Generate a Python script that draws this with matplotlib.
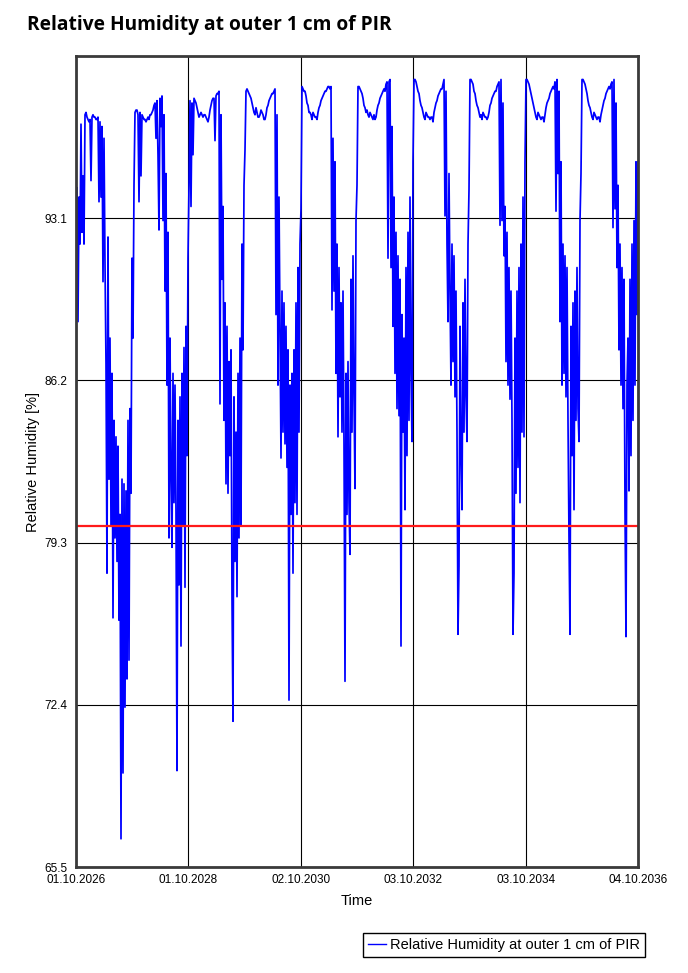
import numpy as np
import pandas as pd
import matplotlib
matplotlib.use("Agg")
import matplotlib.pyplot as plt
from matplotlib.lines import Line2D

# Relative humidity [%], one value per ~6.5 days
rh_2026 = [90.5, 94.4, 88.7, 94.0, 92.0, 97.1, 92.5, 94.9, 92.0, 97.5,
           97.6, 97.4, 97.3, 97.2, 97.3, 94.7, 97.4, 97.5, 97.4, 97.4,
           97.3, 97.3, 97.4, 93.8, 97.2, 94.0, 97.0, 90.4, 96.5, 91.2,
           86.9, 78.0, 92.3, 82.0, 88.0, 80.0, 86.5, 76.1, 84.5, 79.5,
           83.8, 78.5, 83.4, 76.0, 80.5, 66.7, 82.0, 69.5, 81.8, 72.3,
           81.5, 73.5, 84.5, 74.3, 85.0, 81.4, 91.4]
rh_2027 = [88.0, 94.5, 97.6, 97.7, 97.7, 97.5, 93.8, 97.6, 94.9, 97.5,
           97.4, 97.3, 97.3, 97.2, 97.3, 97.4, 97.3, 97.5, 97.5, 97.6,
           97.7, 97.9, 98.0, 96.5, 98.1, 95.8, 92.6, 98.2, 97.0, 98.3,
           93.0, 97.5, 90.0, 95.0, 86.0, 92.5, 79.5, 88.0, 82.0, 79.1,
           86.5, 81.0, 86.0, 80.5, 69.6, 84.5, 77.5, 85.5, 74.9, 86.5,
           80.0, 87.6, 77.4, 88.5, 83.0, 91.4]
rh_2028 = [94.5, 98.1, 93.6, 98.0, 95.8, 98.2, 98.1, 98.0, 97.8, 97.6,
           97.4, 97.5, 97.6, 97.5, 97.4, 97.5, 97.5, 97.4, 97.3, 97.2,
           97.4, 97.7, 97.9, 98.1, 98.2, 98.2, 96.4, 98.3, 98.4, 98.4,
           98.5, 85.2, 97.5, 90.5, 93.6, 84.5, 89.5, 81.8, 88.5, 81.4,
           87.0, 83.0, 87.5, 76.9, 71.7, 85.5, 78.5, 84.0, 77.0, 86.5,
           79.5, 88.0, 80.0, 92.0, 87.5, 94.5]
rh_2029 = [96.0, 98.5, 98.6, 98.5, 98.4, 98.3, 98.2, 98.0, 97.8, 97.6,
           97.5, 97.8, 97.6, 97.4, 97.4, 97.5, 97.7, 97.6, 97.5, 97.3,
           97.3, 97.5, 97.8, 97.9, 98.1, 98.2, 98.3, 98.4, 98.4, 98.5,
           98.6, 89.0, 97.5, 86.0, 94.0, 88.5, 82.9, 90.0, 84.0, 89.5,
           83.5, 88.5, 82.5, 87.5, 72.6, 86.0, 80.5, 86.5, 78.0, 87.5,
           81.0, 89.5, 80.5, 91.0, 84.0, 92.0]
rh_2030 = [93.5, 98.7, 98.6, 98.5, 98.5, 98.3, 98.0, 97.9, 97.6, 97.6,
           97.5, 97.3, 97.6, 97.5, 97.4, 97.4, 97.3, 97.6, 97.8, 97.9,
           98.1, 98.2, 98.3, 98.4, 98.5, 98.5, 98.6, 98.7, 98.7, 98.6,
           98.7, 89.2, 96.5, 90.0, 95.5, 86.5, 92.0, 83.8, 91.0, 85.5,
           89.5, 84.0, 90.0, 83.5, 73.4, 86.5, 80.5, 87.0, 81.0, 78.8,
           90.5, 84.0, 91.5, 85.5, 81.6, 93.0]
rh_2031 = [94.5, 98.7, 98.7, 98.6, 98.5, 98.4, 98.2, 97.9, 97.8, 97.6,
           97.7, 97.5, 97.4, 97.6, 97.5, 97.4, 97.3, 97.5, 97.3, 97.4,
           97.7, 97.9, 98.0, 98.2, 98.3, 98.4, 98.5, 98.6, 98.5, 98.8,
           98.9, 91.4, 98.9, 99.0, 91.0, 97.0, 88.5, 94.0, 86.5, 92.5,
           85.0, 91.5, 84.7, 90.5, 74.9, 89.0, 84.0, 88.0, 80.7, 91.0,
           83.0, 92.5, 84.5, 94.0, 86.5, 83.6]
rh_2032 = [95.5, 99.0, 99.0, 98.9, 98.7, 98.5, 98.4, 98.1, 97.9, 97.8,
           97.6, 97.4, 97.3, 97.6, 97.5, 97.4, 97.4, 97.3, 97.4, 97.4,
           97.2, 97.6, 97.8, 98.0, 98.1, 98.3, 98.4, 98.5, 98.6, 98.6,
           98.8, 99.0, 93.2, 98.5, 92.0, 88.7, 95.0, 90.0, 86.0, 92.0,
           87.0, 91.5, 85.5, 90.0, 84.0, 75.4, 78.3, 88.5, 83.0, 80.7,
           89.5, 84.0, 90.5, 85.5, 83.6, 92.0]
rh_2033 = [94.3, 99.0, 99.0, 98.9, 98.8, 98.5, 98.4, 98.1, 97.9, 97.8,
           97.6, 97.4, 97.5, 97.3, 97.6, 97.5, 97.4, 97.4, 97.3, 97.4,
           97.6, 97.9, 98.0, 98.2, 98.3, 98.4, 98.5, 98.5, 98.7, 98.8,
           98.9, 92.8, 99.0, 93.0, 98.0, 91.5, 93.6, 87.0, 92.5, 86.0,
           91.0, 85.4, 90.0, 84.5, 75.4, 78.0, 88.0, 81.4, 90.0, 82.5,
           91.0, 81.0, 92.0, 84.0, 94.0, 83.8, 95.5]
rh_2034 = [99.0, 99.0, 98.9, 98.8, 98.6, 98.4, 98.2, 98.0, 97.8, 97.6,
           97.4, 97.3, 97.6, 97.5, 97.4, 97.3, 97.4, 97.4, 97.2, 97.5,
           97.8, 98.0, 98.1, 98.2, 98.4, 98.5, 98.6, 98.7, 98.6, 98.9,
           93.4, 99.0, 95.0, 98.5, 88.7, 95.5, 86.0, 92.0, 86.5, 91.5,
           85.5, 91.0, 84.5, 79.5, 75.4, 88.5, 83.0, 89.5, 80.7, 90.0,
           84.5, 91.0, 85.0, 83.6, 93.0, 95.0]
rh_2035 = [99.0, 99.0, 98.9, 98.8, 98.6, 98.4, 98.1, 97.9, 97.8, 97.6,
           97.4, 97.3, 97.6, 97.5, 97.4, 97.3, 97.4, 97.4, 97.2, 97.5,
           97.7, 97.9, 98.1, 98.2, 98.4, 98.5, 98.6, 98.7, 98.6, 98.8,
           98.9, 92.7, 99.0, 93.5, 98.0, 91.0, 94.5, 87.5, 92.0, 86.0,
           91.0, 85.0, 90.5, 80.7, 75.3, 86.0, 88.0, 81.5, 90.5, 83.0,
           92.0, 84.5, 93.0, 86.0, 95.5, 89.0, 95.5]

start_date = "2026-10-01"
end_date = "2036-10-04"
limit_rh = 80.0

y_ticks = [65.5, 72.4, 79.3, 86.2, 93.1]
y_labels = ["65.5", "72.4", "79.3", "86.2", "93.1"]
x_labels = ["01.10.2026", "01.10.2028", "02.10.2030",
            "03.10.2032", "03.10.2034", "04.10.2036"]

series_name = "Relative Humidity at outer 1 cm of PIR"

FONT = ["Liberation Sans", "DejaVu Sans"]


def main():
    rh = np.array(rh_2026 + rh_2027 + rh_2028 + rh_2029 + rh_2030
                  + rh_2031 + rh_2032 + rh_2033 + rh_2034 + rh_2035)
    t = pd.date_range(start_date, end_date, periods=len(rh))
    x_ticks = pd.date_range(start_date, end_date, periods=len(x_labels))

    fig = plt.figure(figsize=(6.88, 9.73), dpi=100)
    ax = fig.add_axes([76 / 688, 1 - 867 / 973, 562 / 688, 811 / 973])

    ax.plot(t, rh, color="#0000ff", lw=1.25, zorder=3)
    ax.axhline(limit_rh, color="#ff1a1a", lw=1.6, zorder=4)

    ax.set_xlim(pd.Timestamp(start_date), pd.Timestamp(end_date))
    ax.set_ylim(65.5, 100.0)

    ax.set_xticks(x_ticks)
    ax.set_xticklabels(x_labels, family=FONT, fontsize=8.5)
    ax.set_yticks(y_ticks)
    ax.set_yticklabels(y_labels, family=FONT, fontsize=8.5)
    ax.tick_params(axis="both", length=0, colors="black")
    ax.tick_params(axis="x", pad=5)
    ax.tick_params(axis="y", pad=6)
    ax.grid(True, color="black", lw=0.8, zorder=1)

    for s in ax.spines.values():
        s.set_linewidth(2.0)
        s.set_color("#3a3a3a")
        s.set_zorder(5)

    ax.set_xlabel("Time", family=FONT, fontsize=10.5, labelpad=6)
    ax.set_ylabel("Relative Humidity [%]", family=FONT, fontsize=10.5,
                  labelpad=3)

    fig.text(27 / 688, 1 - 25 / 973, series_name, fontsize=13.8,
             fontweight="bold", family=["Open Sans", "DejaVu Sans"],
             ha="left", va="center")

    handle = Line2D([], [], color="#0000ff", lw=1.0)
    leg = fig.legend([handle], [series_name], loc="upper right",
                     bbox_to_anchor=(645 / 688, 1 - 933 / 973),
                     prop={"family": FONT, "size": 10.5},
                     frameon=True, fancybox=False, framealpha=1,
                     edgecolor="black", handlelength=1.2, handletextpad=0.3,
                     borderpad=0.35, borderaxespad=0)
    leg.get_frame().set_linewidth(1.0)

    fig.savefig("out.png", dpi=100)


if __name__ == "__main__":
    main()
